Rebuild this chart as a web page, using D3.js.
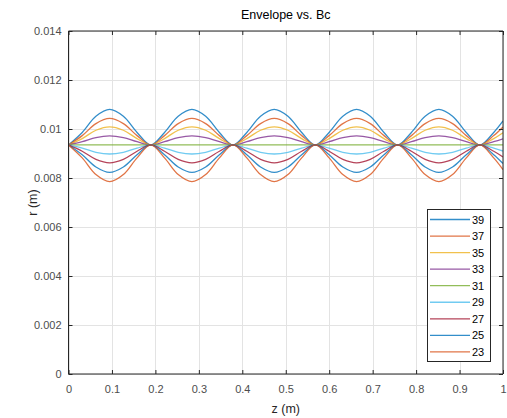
<!DOCTYPE html>
<html>
<head>
<meta charset="utf-8">
<script src="https://cdn.jsdelivr.net/npm/d3@7"></script>
<style>
  html, body { margin: 0; padding: 0; background: #fff; }
  svg { display: block; font-family: "Liberation Sans", Arial, Helvetica, sans-serif; }
</style>
</head>
<body>
<svg id="chart" width="507" height="418"></svg>
<script>
// ---- data ----
const chartTitle = "Envelope vs. Bc";
const xLabel = "z (m)";
const yLabel = "r (m)";
const xTicks = [0, 0.1, 0.2, 0.3, 0.4, 0.5, 0.6, 0.7, 0.8, 0.9, 1];
const yTicks = [0, 0.002, 0.004, 0.006, 0.008, 0.01, 0.012, 0.014];
const seriesNames = ["39", "37", "35", "33", "31", "29", "27", "25", "23"];
const seriesColors = ["#0072BD", "#D95319", "#EDB120", "#7E2F8E", "#77AC30", "#4DBEEE", "#A2142F", "#0072BD", "#D95319"];

const z = [0, 0.0316, 0.0631, 0.0947, 0.1263, 0.1578,
           0.1894, 0.2210, 0.2525, 0.2841, 0.3157, 0.3473,
           0.3788, 0.4104, 0.4420, 0.4735, 0.5051, 0.5367,
           0.5682, 0.5998, 0.6314, 0.6630, 0.6945, 0.7261,
           0.7576, 0.7892, 0.8208, 0.8524, 0.8839, 0.9155,
           0.9470, 0.9786, 1.0];

const r39 = [0.00935, 0.00986, 0.01052, 0.01080, 0.01052, 0.00986,
             0.00935, 0.00986, 0.01052, 0.01080, 0.01052, 0.00986,
             0.00935, 0.00986, 0.01052, 0.01080, 0.01052, 0.00986,
             0.00935, 0.00986, 0.01052, 0.01080, 0.01052, 0.00986,
             0.00935, 0.00986, 0.01052, 0.01080, 0.01052, 0.00986,
             0.00935, 0.00986, 0.01033];
const r37 = [0.00935, 0.00973, 0.01022, 0.01043, 0.01022, 0.00973,
             0.00935, 0.00973, 0.01022, 0.01043, 0.01022, 0.00973,
             0.00935, 0.00973, 0.01022, 0.01043, 0.01022, 0.00973,
             0.00935, 0.00973, 0.01022, 0.01043, 0.01022, 0.00973,
             0.00935, 0.00973, 0.01022, 0.01043, 0.01022, 0.00973,
             0.00935, 0.00973, 0.01008];
const r35 = [0.00935, 0.00961, 0.00995, 0.01009, 0.00995, 0.00961,
             0.00935, 0.00961, 0.00995, 0.01009, 0.00995, 0.00961,
             0.00935, 0.00961, 0.00995, 0.01009, 0.00995, 0.00961,
             0.00935, 0.00961, 0.00995, 0.01009, 0.00995, 0.00961,
             0.00935, 0.00961, 0.00995, 0.01009, 0.00995, 0.00961,
             0.00935, 0.00961, 0.00985];
const r33 = [0.00935, 0.00948, 0.00965, 0.00972, 0.00965, 0.00948,
             0.00935, 0.00948, 0.00965, 0.00972, 0.00965, 0.00948,
             0.00935, 0.00948, 0.00965, 0.00972, 0.00965, 0.00948,
             0.00935, 0.00948, 0.00965, 0.00972, 0.00965, 0.00948,
             0.00935, 0.00948, 0.00965, 0.00972, 0.00965, 0.00948,
             0.00935, 0.00948, 0.00960];
const r31 = [0.00935, 0.00935, 0.00935, 0.00935, 0.00935, 0.00935,
             0.00935, 0.00935, 0.00935, 0.00935, 0.00935, 0.00935,
             0.00935, 0.00935, 0.00935, 0.00935, 0.00935, 0.00935,
             0.00935, 0.00935, 0.00935, 0.00935, 0.00935, 0.00935,
             0.00935, 0.00935, 0.00935, 0.00935, 0.00935, 0.00935,
             0.00935, 0.00935, 0.00935];
const r29 = [0.00935, 0.00922, 0.00905, 0.00898, 0.00905, 0.00922,
             0.00935, 0.00922, 0.00905, 0.00898, 0.00905, 0.00922,
             0.00935, 0.00922, 0.00905, 0.00898, 0.00905, 0.00922,
             0.00935, 0.00922, 0.00905, 0.00898, 0.00905, 0.00922,
             0.00935, 0.00922, 0.00905, 0.00898, 0.00905, 0.00922,
             0.00935, 0.00922, 0.00910];
const r27 = [0.00935, 0.00909, 0.00876, 0.00862, 0.00876, 0.00909,
             0.00935, 0.00909, 0.00876, 0.00862, 0.00876, 0.00909,
             0.00935, 0.00909, 0.00876, 0.00862, 0.00876, 0.00909,
             0.00935, 0.00909, 0.00876, 0.00862, 0.00876, 0.00909,
             0.00935, 0.00909, 0.00876, 0.00862, 0.00876, 0.00909,
             0.00935, 0.00909, 0.00886];
const r25 = [0.00935, 0.00895, 0.00845, 0.00823, 0.00845, 0.00895,
             0.00935, 0.00895, 0.00845, 0.00823, 0.00845, 0.00895,
             0.00935, 0.00895, 0.00845, 0.00823, 0.00845, 0.00895,
             0.00935, 0.00895, 0.00845, 0.00823, 0.00845, 0.00895,
             0.00935, 0.00895, 0.00845, 0.00823, 0.00845, 0.00895,
             0.00935, 0.00895, 0.00859];
const r23 = [0.00935, 0.00882, 0.00814, 0.00785, 0.00814, 0.00882,
             0.00935, 0.00882, 0.00814, 0.00785, 0.00814, 0.00882,
             0.00935, 0.00882, 0.00814, 0.00785, 0.00814, 0.00882,
             0.00935, 0.00882, 0.00814, 0.00785, 0.00814, 0.00882,
             0.00935, 0.00882, 0.00814, 0.00785, 0.00814, 0.00882,
             0.00935, 0.00882, 0.00834];

const seriesValues = [r39, r37, r35, r33, r31, r29, r27, r25, r23];

// ---- layout ----
const svg = d3.select("#chart");
const margin = { left: 68.5, right: 4, top: 31, bottom: 44 };
const W = 507, H = 418;
const x = d3.scaleLinear().domain([0, 1]).range([margin.left, W - margin.right]);
const y = d3.scaleLinear().domain([0, 0.014]).range([H - margin.bottom, margin.top]);
const axisColor = "#262626";
const tickColor = "#4d4d4d";

// grid
const grid = svg.append("g");
grid.selectAll("line.gx").data(xTicks).join("line")
  .attr("x1", d => Math.round(x(d)) + 0.5).attr("x2", d => Math.round(x(d)) + 0.5)
  .attr("y1", y(0)).attr("y2", y(0.014))
  .attr("stroke", "#e3e3e3").attr("stroke-width", 1);
grid.selectAll("line.gy").data(yTicks).join("line")
  .attr("y1", d => Math.round(y(d)) + 0.5).attr("y2", d => Math.round(y(d)) + 0.5)
  .attr("x1", x(0)).attr("x2", x(1))
  .attr("stroke", "#e3e3e3").attr("stroke-width", 1);

// lines
const line = d3.line()
  .x((d, i) => x(z[i]))
  .y(d => y(d))
  .curve(d3.curveCatmullRom.alpha(0.5));

const clip = svg.append("clipPath").attr("id", "clip").append("rect")
  .attr("x", x(0)).attr("y", y(0.014)).attr("width", x(1) - x(0)).attr("height", y(0) - y(0.014));

svg.append("g").attr("clip-path", "url(#clip)")
  .selectAll("path").data(seriesValues).join("path")
  .attr("d", d => line(d))
  .attr("fill", "none")
  .attr("stroke", (d, i) => seriesColors[i])
  .attr("stroke-width", 1.3)
  .attr("stroke-opacity", 0.8);

// axes
const xAxisB = d3.axisBottom(x).tickValues(xTicks).tickSize(-4).tickPadding(11)
  .tickFormat(d => d3.format("~g")(d));
const xAxisT = d3.axisTop(x).tickValues(xTicks).tickSize(-4).tickFormat("");
const yAxisL = d3.axisLeft(y).tickValues(yTicks).tickSize(-4).tickPadding(7)
  .tickFormat(d => d === 0 ? "0" : d3.format(".3~f")(d));
const yAxisR = d3.axisRight(y).tickValues(yTicks).tickSize(-4).tickFormat("");

function styleAxis(g) {
  g.select(".domain").attr("stroke", axisColor).attr("stroke-width", 1);
  g.selectAll(".tick line").attr("stroke", axisColor).attr("stroke-width", 1);
  g.selectAll(".tick text").attr("fill", tickColor).attr("font-size", 11)
    .attr("font-family", "Liberation Sans, Arial, sans-serif");
}

svg.append("g").attr("transform", `translate(0,${y(0)})`).call(xAxisB).call(styleAxis)
  .call(g => g.select(".domain").attr("d", `M${x(0)},0H${x(1)}`));
svg.append("g").attr("transform", `translate(0,${y(0.014)})`).call(xAxisT).call(styleAxis)
  .call(g => g.select(".domain").attr("d", `M${x(0)},0H${x(1)}`));
svg.append("g").attr("transform", `translate(${x(0)},0)`).call(yAxisL).call(styleAxis)
  .call(g => g.select(".domain").attr("d", `M0,${y(0)}V${y(0.014)}`));
svg.append("g").attr("transform", `translate(${x(1)},0)`).call(yAxisR).call(styleAxis)
  .call(g => g.select(".domain").attr("d", `M0,${y(0)}V${y(0.014)}`));

// title and labels
svg.append("text").attr("x", (x(0) + x(1)) / 2).attr("y", 19)
  .attr("text-anchor", "middle").attr("font-size", 12.5).attr("fill", "#000")
  .text(chartTitle);
svg.append("text").attr("x", (x(0) + x(1)) / 2).attr("y", 413)
  .attr("text-anchor", "middle").attr("font-size", 12.5).attr("fill", "#262626")
  .text(xLabel);
svg.append("text")
  .attr("transform", `translate(37,${(y(0) + y(0.014)) / 2}) rotate(-90)`)
  .attr("text-anchor", "middle").attr("font-size", 12.5).attr("fill", "#262626")
  .text(yLabel);

// legend
const lg = svg.append("g").attr("transform", "translate(427,209)");
lg.append("rect").attr("x", 0.5).attr("y", 0.5).attr("width", 63).attr("height", 152)
  .attr("fill", "#fff").attr("stroke", axisColor).attr("stroke-width", 1);
const rowH = 16.55;
const items = lg.selectAll("g.item").data(seriesNames).join("g")
  .attr("transform", (d, i) => `translate(0,${10.5 + i * rowH})`);
items.append("line").attr("x1", 3).attr("x2", 43).attr("y1", 0).attr("y2", 0)
  .attr("stroke", (d, i) => seriesColors[i]).attr("stroke-width", 1.3).attr("stroke-opacity", 0.8);
items.append("text").attr("x", 45).attr("y", 4).attr("font-size", 11).attr("fill", "#000")
  .text(d => d);
</script>
</body>
</html>
